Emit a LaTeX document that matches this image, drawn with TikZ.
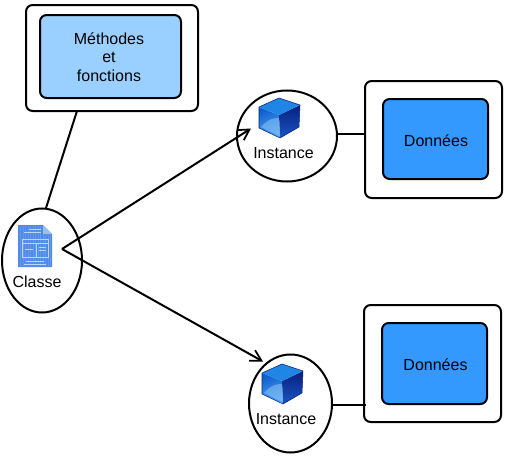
\documentclass[tikz,border=0pt]{standalone}
\usepackage{fontspec}
\setmainfont{Liberation Sans}
\usetikzlibrary{arrows.meta}
\definecolor{lightblue}{HTML}{99D0FF}
\definecolor{midblue}{HTML}{3399FF}
\definecolor{docblue}{HTML}{4F8AE8}
\definecolor{docline}{HTML}{BCD6FA}
\definecolor{cubetop}{HTML}{1F86E6}
\definecolor{cubeleftA}{HTML}{0F5FD0}
\definecolor{cubeleftB}{HTML}{4FA6F2}
\definecolor{cuberightA}{HTML}{06207E}
\definecolor{cuberightB}{HTML}{1B54C4}
\tikzset{
  x=0.75pt,y=-0.75pt,
  outerbox/.style={draw=black,line width=1.5pt,fill=white,rounded corners=5pt,inner sep=0pt},
  innerbox/.style={draw=black,line width=1.5pt,rounded corners=5pt,inner sep=0pt},
  label/.style={font=\fontsize{12}{14}\selectfont,inner sep=0pt,align=center,text=black},
  link/.style={draw=black,line width=1.5pt},
  arrowlink/.style={link,-{Straight Barb[length=8pt,width=9pt,line width=1.3pt]}},
  pics/cube/.style={code={
    \shade[left color=cubeleftA,right color=cubeleftB,shading angle=20]
      (-20,-31) -- (0,-23) -- (1,0) -- (-20,-10) -- cycle;
    \shade[top color=cuberightA,bottom color=cuberightB]
      (0,-23) -- (21,-33) -- (20,-11) -- (1,0) -- cycle;
    \fill[cubetop] (-20,-31) -- (0,-40) -- (21,-33) -- (0,-23) -- cycle;
    \fill[cubeleftB!60!white,opacity=.5] (-18,-11) .. controls (-10,-20) and (-4,-20) .. (0,-20) -- (1,-2) -- cycle;
    \draw[cuberightA,line width=.4pt,line join=round]
      (-20,-31) -- (0,-40) -- (21,-33) -- (20,-11) -- (1,0) -- (-20,-10) -- cycle;
  }},
  pics/docicon/.style={code={
    \fill[docblue] (0,0) -- (25,0) -- (34,9) -- (34,42) -- (0,42) -- cycle;
    \fill[docblue!55!white] (25,0) -- (34,9) -- (25,9) -- cycle;
    \draw[docblue!88!white,line width=.15pt,step=2.5] (1,1) grid (24,41) (24,10) grid (33,41);
    \draw[docline,line width=.4pt] (4,14) rectangle (30,32);
    \draw[docline,line width=.4pt] (18,18) -- (18,32) (4,18) -- (30,18);
    \draw[docline,line width=.4pt] (11,4) -- (23,4) (6,7) -- (23,7) (8,36) -- (26,36) (6,39) -- (28,39);
    \draw[docline,line width=.3pt] (21,22) -- (28,22) (21,25) -- (28,25) (7,24) -- (15,24);
  }}
}
\begin{document}
\begin{tikzpicture}
\useasboundingbox (0,0) rectangle (512,464);
% boxes
\node[outerbox,minimum width=129pt,minimum height=79.5pt] (mo) at (112,58) {};
\node[innerbox,fill=lightblue,minimum width=105.75pt,minimum height=62.25pt] (mi) at (110.5,56.5) {};
\node[label] (mt) at (109,57) {Méthodes\\[0pt]et\\[0pt]fonctions};
\node[outerbox,minimum width=102.75pt,minimum height=87.75pt] (d1o) at (433.5,139.5) {};
\node[innerbox,fill=midblue,minimum width=78.75pt,minimum height=60pt] (d1i) at (435.5,139) {};
\node[label] (d1t) at (436,141) {Données};
\node[outerbox,minimum width=102.75pt,minimum height=87.75pt] (d2o) at (432.5,363.5) {};
\node[innerbox,fill=midblue,minimum width=78.75pt,minimum height=60.75pt] (d2i) at (434.5,363.5) {};
\node[label] (d2t) at (435.5,365) {Données};
% ellipses
\draw[line width=1.5pt,fill=white] (42,260.5) ellipse [x radius=40,y radius=52];
\draw[line width=1.5pt,fill=white] (287,136) ellipse [x radius=50,y radius=45.5];
\draw[line width=1.5pt,fill=white] (290.5,403.5) ellipse [x radius=41.5,y radius=49];
% icons
\pic at (18,225) {docicon};
\pic at (279,138) {cube};
\pic at (282,404) {cube};
% labels
\node[label] (classe) at (37,281.5) {Classe};
\node[label] (inst1) at (283.5,153.5) {Instance};
\node[label] (inst2) at (286,419) {Instance};
% connector ends
\coordinate (c0) at (62,249);
\coordinate (c1) at (46,208);
\coordinate (m1) at (77,111);
\coordinate (a1) at (251,128.5);
\coordinate (a2) at (263,361.5);
\coordinate (i1) at (338,134);
\coordinate (d1) at (365.5,134);
\coordinate (i2) at (332,405);
\coordinate (d2) at (366,405);
\draw[link] (m1) -- (c1);
\draw[arrowlink] (c0) -- (a1);
\draw[arrowlink] (c0) -- (a2);
\draw[link] (i1) -- (d1);
\draw[link] (i2) -- (d2);
\end{tikzpicture}
\end{document}
